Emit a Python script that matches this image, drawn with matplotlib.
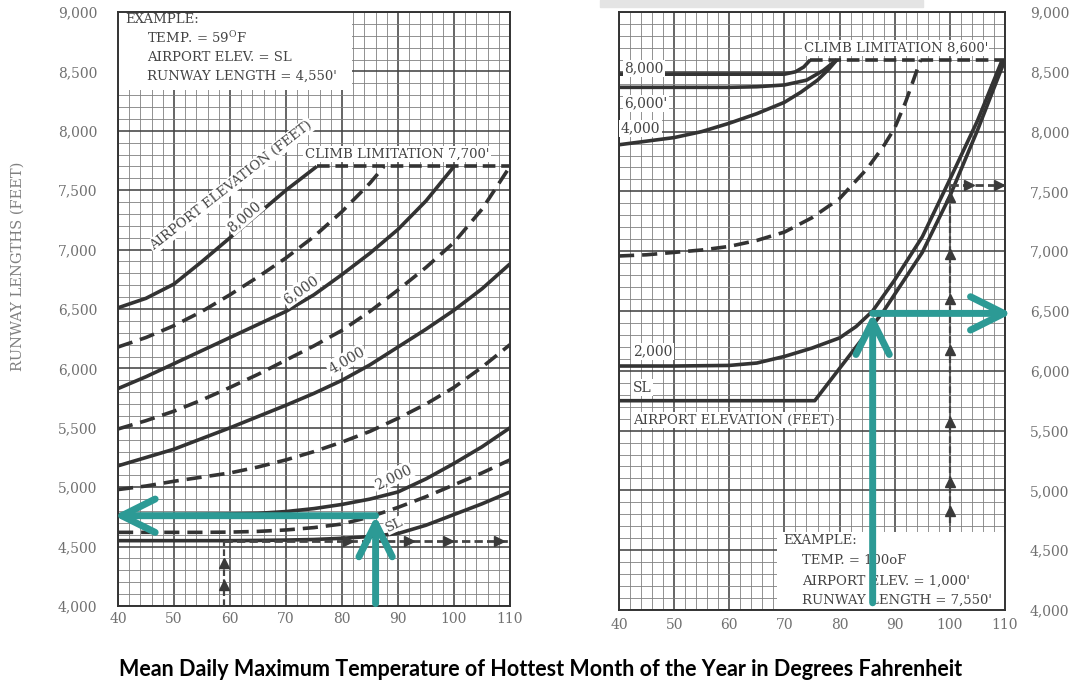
import numpy as np
import matplotlib
matplotlib.use("Agg")
import matplotlib.pyplot as plt
from matplotlib.patches import Rectangle

plt.rcParams['font.family'] = 'DejaVu Serif'
plt.rcParams['mathtext.fontset'] = 'dejavuserif'

# ---- left chart: runway length (ft) vs temperature (F) per airport elevation ----
temp_l = [40, 45, 50, 55, 60, 65, 70, 75, 80, 85, 90, 95, 100, 105, 110]
sl_l = [4550, 4550, 4550, 4550, 4550, 4552, 4555, 4560, 4570, 4585, 4610, 4680, 4770, 4860, 4960]
elev1000_l = [4620, 4620, 4620, 4620, 4622, 4628, 4640, 4660, 4690, 4750, 4830, 4920, 5020, 5120, 5230]
elev2000_l = [4770, 4770, 4770, 4772, 4775, 4780, 4795, 4820, 4855, 4900, 4960, 5070, 5200, 5340, 5500]
elev3000_l = [4980, 5010, 5050, 5085, 5120, 5170, 5230, 5300, 5380, 5470, 5580, 5700, 5840, 6010, 6200]
elev4000_l = [5180, 5250, 5320, 5410, 5500, 5595, 5690, 5790, 5900, 6030, 6180, 6330, 6490, 6670, 6880]
elev5000_l = [5490, 5560, 5640, 5735, 5840, 5950, 6070, 6190, 6320, 6480, 6660, 6850, 7060, 7340, 7700]
temp6000_l = [40, 45, 50, 55, 60, 65, 70, 75, 80, 85, 90, 95, 100]
elev6000_l = [5830, 5930, 6040, 6150, 6260, 6370, 6480, 6620, 6790, 6970, 7170, 7410, 7700]
temp7000_l = [40, 45, 50, 55, 60, 65, 70, 75, 80, 85, 87.5]
elev7000_l = [6180, 6260, 6360, 6480, 6620, 6770, 6930, 7110, 7320, 7560, 7700]
temp8000_l = [40, 45, 50, 55, 60, 65, 70, 75.5]
elev8000_l = [6510, 6590, 6710, 6900, 7100, 7300, 7500, 7700]
climb_l = 7700
climb_start_l = 75.5

# left example: 59F at sea level -> 4,550 ft
ex_temp_l = 59
ex_len_l = 4550
ex_up_marks_l = [4180, 4360]
ex_right_marks_l = [81, 92, 99, 108]

# ---- right chart ----
temp8000_r = [40, 50, 60, 70, 72, 73.5, 74.7]
elev8000_r = [8480, 8480, 8480, 8480, 8500, 8540, 8600]
temp6000_r = [40, 50, 60, 65, 70, 74, 77, 79.5]
elev6000_r = [8370, 8370, 8370, 8375, 8390, 8430, 8510, 8600]
temp4000_r = [40, 45, 50, 55, 60, 65, 70, 73, 76, 78, 79.5]
elev4000_r = [7890, 7920, 7950, 8000, 8070, 8150, 8245, 8330, 8430, 8520, 8600]
temp3000_r = [40, 45, 50, 55, 60, 65, 70, 75, 80, 85, 88, 90, 92, 94.7]
elev3000_r = [6960, 6970, 6990, 7010, 7040, 7090, 7160, 7280, 7440, 7690, 7880, 8030, 8250, 8600]
temp2000_r = [40, 50, 60, 65, 70, 75, 80, 83, 86, 90, 95, 100, 105, 109.5]
elev2000_r = [6040, 6040, 6045, 6065, 6120, 6190, 6275, 6370, 6500, 6760, 7120, 7600, 8090, 8600]
tempsl_r = [40, 50, 60, 70, 75.5, 80, 85, 88, 90, 95, 100, 105, 110]
sl_r = [5750, 5750, 5750, 5750, 5750, 6020, 6320, 6500, 6640, 6990, 7460, 8010, 8600]
climb_r = 8600
climb_start_r = 74.7

# right example: 100F at 1,000 ft -> 7,550 ft
ex_temp_r = 100
ex_len_r = 7550
ex_base_r = 4725
ex_up_marks_r = [4830, 5070, 5570, 6170, 6600, 6980, 7450]
ex_right_marks_r = [103.5, 109]

# teal reading arrows (86F)
teal_temp = 86
teal_len_l = 4760
teal_len_r = 6480

x_ticks = list(range(40, 111, 10))
y_ticks = list(range(4000, 9001, 500))
y_labels = [f"{v:,}" for v in y_ticks]

title = "Mean Daily Maximum Temperature of Hottest Month of the Year in Degrees Fahrenheit"

INK = '#333333'
TEAL = '#2c9a95'
GREY_TXT = '#707070'
LW = 2.6
DASH = (4.2, 2.2)


def setup_panel(ax, right=False):
    ax.set_xlim(40, 110)
    ax.set_ylim(4000, 9000)
    ax.set_xticks(x_ticks)
    ax.set_xticks(np.arange(40, 111, 2), minor=True)
    ax.set_yticks(y_ticks)
    ax.set_yticks(np.arange(4000, 9001, 100), minor=True)
    ax.set_yticklabels(y_labels)
    ax.set_axisbelow(True)
    ax.grid(which='minor', color='#808080', lw=0.6)
    ax.grid(which='major', color='#444444', lw=1.15)
    ax.tick_params(which='both', length=0, labelsize=10, labelcolor=GREY_TXT)
    ax.tick_params(axis='x', pad=4)
    if right:
        ax.yaxis.tick_right()
        ax.tick_params(axis='y', pad=18)
    else:
        ax.tick_params(axis='y', pad=15)
    for s in ax.spines.values():
        s.set_color(INK)
        s.set_linewidth(1.4)


def solid(ax, x, y):
    ax.plot(x, y, color=INK, lw=LW, solid_capstyle='butt', solid_joinstyle='round', zorder=2)


def dashed(ax, x, y):
    ax.plot(x, y, color=INK, lw=LW, dashes=DASH, zorder=2)


def teal_arrow(ax, start, end):
    ax.annotate('', xy=end, xytext=start, annotation_clip=False,
                arrowprops=dict(arrowstyle='->,head_length=1.2,head_width=0.6',
                                mutation_scale=20, lw=5, color=TEAL,
                                shrinkA=0, shrinkB=0), zorder=6)


lbl = dict(facecolor='white', edgecolor='none', pad=1.0)

fig = plt.figure(figsize=(10.72, 6.86), dpi=100)
fig.patches.append(Rectangle((600 / 1072, 1 - 7 / 686), 323 / 1072, 7 / 686,
                             transform=fig.transFigure, color='#e4e4e4', zorder=0))

# ================= left panel =================
ax1 = fig.add_axes([118 / 1072, (686 - 606) / 686, 392 / 1072, 594 / 686])
setup_panel(ax1)

solid(ax1, temp_l, sl_l)
dashed(ax1, temp_l, elev1000_l)
solid(ax1, temp_l, elev2000_l)
dashed(ax1, temp_l, elev3000_l)
solid(ax1, temp_l, elev4000_l)
dashed(ax1, temp_l, elev5000_l)
solid(ax1, temp6000_l, elev6000_l)
dashed(ax1, temp7000_l, elev7000_l)
solid(ax1, temp8000_l, elev8000_l)
ax1.plot([climb_start_l, 110], [climb_l, climb_l], color=INK, lw=LW, dashes=(3.5, 1.6))

# example lines with arrowheads
ax1.plot([ex_temp_l, ex_temp_l], [4000, ex_len_l], color='#444444', lw=1.6, dashes=(3, 1.5), zorder=3)
ax1.plot([ex_temp_l] * len(ex_up_marks_l), ex_up_marks_l, '^', color='#3a3a3a', ms=7, zorder=3)
ax1.plot([ex_temp_l, 110], [ex_len_l, ex_len_l], color='#444444', lw=2.0, dashes=(3, 1.5), zorder=3)
ax1.plot(ex_right_marks_l, [ex_len_l] * len(ex_right_marks_l), '>', color='#3a3a3a', ms=7, zorder=3)

# example box
ax1.add_patch(Rectangle((0, 0.869), 0.597, 0.131, transform=ax1.transAxes,
                        facecolor='white', edgecolor='none', zorder=1.5))
ax1.text(0.018, 0.988, "EXAMPLE:", transform=ax1.transAxes, fontsize=9.5, va='center', color='#444444')
ax1.text(0.074, 0.956, "TEMP. = 59$^{\\rm O}$F", transform=ax1.transAxes, fontsize=9.5, va='center', color='#444444')
ax1.text(0.074, 0.924, "AIRPORT ELEV. = SL", transform=ax1.transAxes, fontsize=9.5, va='center', color='#444444')
ax1.text(0.074, 0.891, "RUNWAY LENGTH = 4,550'", transform=ax1.transAxes, fontsize=9.5, va='center', color='#444444')

ax1.text(89.8, 7805, "CLIMB LIMITATION 7,700'", fontsize=9.5, ha='center', va='center',
         color='#444444', bbox=lbl, zorder=4)
ax1.text(60.2, 7540, "AIRPORT ELEVATION (FEET)", fontsize=9.5, ha='center', va='center',
         rotation=38, color='#444444', bbox=lbl, zorder=4)
ax1.text(62.6, 7280, "8,000", fontsize=10, ha='center', va='center', rotation=41,
         color='#444444', bbox=lbl, zorder=4)
ax1.text(72.7, 6660, "6,000", fontsize=10, ha='center', va='center', rotation=35,
         color='#444444', bbox=lbl, zorder=4)
ax1.text(80.8, 6070, "4,000", fontsize=10, ha='center', va='center', rotation=30,
         color='#444444', bbox=lbl, zorder=4)
ax1.text(89.1, 5085, "2,000", fontsize=10, ha='center', va='center', rotation=26,
         color='#444444', bbox=lbl, zorder=4)
ax1.text(89.4, 4680, "SL", fontsize=9.5, ha='center', va='center', rotation=25,
         color='#444444', bbox=dict(facecolor='white', edgecolor='none', pad=0.3), zorder=4)

teal_arrow(ax1, (teal_temp, 4020), (teal_temp, teal_len_l))
teal_arrow(ax1, (teal_temp, teal_len_l), (39.3, teal_len_l))

# ================= right panel =================
ax2 = fig.add_axes([619 / 1072, (686 - 610) / 686, 386 / 1072, 598 / 686])
setup_panel(ax2, right=True)
ax2.tick_params(axis='x', pad=6)

solid(ax2, temp8000_r, elev8000_r)
solid(ax2, temp6000_r, elev6000_r)
solid(ax2, temp4000_r, elev4000_r)
dashed(ax2, temp3000_r, elev3000_r)
solid(ax2, temp2000_r, elev2000_r)
solid(ax2, tempsl_r, sl_r)
ax2.plot([climb_start_r, 110], [climb_r, climb_r], color=INK, lw=LW, dashes=(3.5, 1.6))

ax2.plot([ex_temp_r, ex_temp_r], [ex_base_r, ex_len_r], color='#444444', lw=1.6, dashes=(3, 1.5), zorder=3)
ax2.plot([ex_temp_r] * len(ex_up_marks_r), ex_up_marks_r, '^', color='#3a3a3a', ms=7, zorder=3)
ax2.plot([ex_temp_r, 110], [ex_len_r, ex_len_r], color='#444444', lw=2.0, dashes=(3, 1.5), zorder=3)
ax2.plot(ex_right_marks_r, [ex_len_r] * len(ex_right_marks_r), '>', color='#3a3a3a', ms=7, zorder=3)

ax2.add_patch(Rectangle((0.409, 0), 0.591, 0.130, transform=ax2.transAxes,
                        facecolor='white', edgecolor='none', zorder=1.5))
ax2.text(0.425, 0.117, "EXAMPLE:", transform=ax2.transAxes, fontsize=9.5, va='center', color='#444444')
ax2.text(0.474, 0.082, "TEMP. = 100oF", transform=ax2.transAxes, fontsize=9.5, va='center', color='#444444')
ax2.text(0.474, 0.0485, "AIRPORT ELEV. = 1,000'", transform=ax2.transAxes, fontsize=9.5, va='center', color='#444444')
ax2.text(0.474, 0.0167, "RUNWAY LENGTH = 7,550'", transform=ax2.transAxes, fontsize=9.5, va='center', color='#444444')

ax2.text(90.2, 8700, "CLIMB LIMITATION 8,600'", fontsize=9.5, ha='center', va='center',
         color='#444444', bbox=lbl, zorder=4)
ax2.text(41.0, 8530, "8,000", fontsize=10, ha='left', va='center', color='#444444', bbox=lbl, zorder=4)
ax2.text(41.0, 8235, "6,000'", fontsize=10, ha='left', va='center', color='#444444', bbox=lbl, zorder=4)
ax2.text(40.3, 8025, "4,000", fontsize=10, ha='left', va='center', color='#444444', bbox=lbl, zorder=4)
ax2.text(42.5, 6160, "2,000", fontsize=10, ha='left', va='center', color='#444444', bbox=lbl, zorder=4)
ax2.text(42.5, 5860, "SL", fontsize=10, ha='left', va='center', color='#444444', bbox=lbl, zorder=4)
ax2.text(42.5, 5585, "AIRPORT ELEVATION (FEET)", fontsize=9.5, ha='left', va='center',
         color='#444444', bbox=lbl, zorder=4)

teal_arrow(ax2, (teal_temp, 4060), (teal_temp, teal_len_r))
teal_arrow(ax2, (teal_temp, teal_len_r), (111.2, teal_len_r))

# axis titles
fig.text(18 / 1072, 1 - 266 / 686, "RUNWAY LENGTHS (FEET)", rotation=90, ha='center', va='center',
         fontsize=10.5, color='#808080')
fig.text(541 / 1072, 1 - 670 / 686, title, ha='center', va='center', fontsize=15.5,
         fontweight='bold', family='Lato', color='black')

fig.savefig('out.png', dpi=100, facecolor='white')
